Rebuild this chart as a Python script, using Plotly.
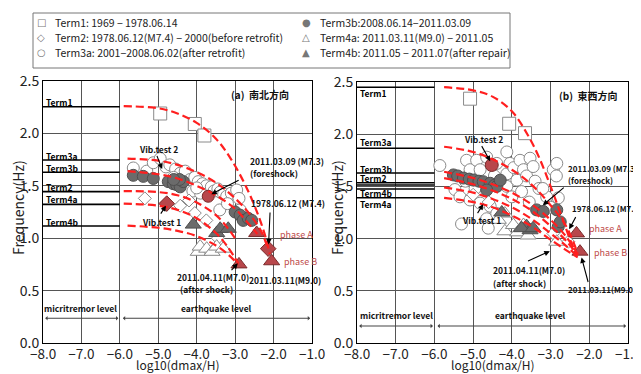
import plotly.graph_objects as go

# ------------------------------------------------------------------ data
X_TICKS = [-8, -7, -6, -5, -4, -3, -2, -1]
Y_TICKS = [0.0, 0.5, 1.0, 1.5, 2.0, 2.5]

# horizontal term reference lines (x from -8 to -6)
TERM_LEVELS_L = [2.255, 1.746, 1.629, 1.444, 1.323, 1.116]
TERM_NAMES_L = ["Term1", "Term3a", "Term3b", "Term2", "Term4a", "Term4b"]
TERM_LABEL_Y_L = [2.30, 1.784, 1.667, 1.486, 1.371, 1.157]

TERM_LEVELS_R = [2.449, 1.865, 1.628, 1.535, 1.513, 1.475, 1.392]
TERM_NAMES_R = ["Term1", "Term3a", "Term3b", "Term2", "Term4b", "Term4a"]
TERM_LABEL_Y_R = [2.39, 1.928, 1.667, 1.577, 1.435, 1.333]

# red dashed trend curves
CURVES_L = [
    ([-5.9, -5.0, -4.5, -4.0, -3.5, -3.1, -2.7, -2.4, -2.2, -2.1],
     [2.26, 2.24, 2.19, 2.10, 1.95, 1.75, 1.48, 1.22, 1.00, 0.85]),
    ([-5.8, -5.0, -4.5, -4.0, -3.5, -3.0, -2.6, -2.3, -2.15],
     [1.76, 1.74, 1.70, 1.63, 1.53, 1.38, 1.22, 1.05, 0.90]),
    ([-5.8, -5.0, -4.5, -4.0, -3.5, -3.0, -2.7, -2.42],
     [1.64, 1.61, 1.57, 1.50, 1.41, 1.28, 1.16, 1.04]),
    ([-5.9, -5.0, -4.5, -4.0, -3.5, -3.2, -2.95],
     [1.45, 1.44, 1.41, 1.34, 1.22, 1.10, 0.97]),
    ([-5.9, -5.0, -4.5, -4.0, -3.5, -3.2, -2.92],
     [1.33, 1.31, 1.27, 1.19, 1.05, 0.92, 0.76]),
    ([-5.8, -5.0, -4.5, -4.0, -3.5, -3.2, -2.92],
     [1.12, 1.10, 1.07, 1.02, 0.93, 0.85, 0.75]),
]
CURVES_R = [
    ([-5.75, -5.0, -4.5, -4.0, -3.6, -3.3, -3.0, -2.7, -2.45, -2.3],
     [2.45, 2.42, 2.36, 2.22, 2.00, 1.78, 1.50, 1.20, 0.95, 0.84]),
    ([-5.75, -5.0, -4.5, -4.0, -3.5, -3.0, -2.6, -2.3],
     [1.88, 1.83, 1.76, 1.66, 1.52, 1.32, 1.12, 0.86]),
    ([-5.75, -5.0, -4.5, -4.0, -3.5, -3.0, -2.6, -2.3],
     [1.64, 1.58, 1.52, 1.44, 1.33, 1.18, 1.02, 0.85]),
    ([-5.75, -5.0, -4.5, -4.0, -3.5, -3.0, -2.6, -2.3],
     [1.58, 1.52, 1.46, 1.38, 1.27, 1.12, 0.98, 0.84]),
    ([-5.75, -5.0, -4.5, -4.0, -3.5, -3.0, -2.6, -2.3],
     [1.49, 1.44, 1.38, 1.30, 1.19, 1.05, 0.93, 0.83]),
    ([-5.75, -5.0, -4.5, -4.0, -3.5, -3.0, -2.6, -2.3],
     [1.39, 1.35, 1.30, 1.22, 1.12, 0.99, 0.89, 0.82]),
]

# ---- left panel (a) 南北方向
T1_X_L = [-4.95, -4.05, -3.80]
T1_Y_L = [2.19, 2.09, 1.98]
T2_X_L = [-5.35, -4.43, -4.20, -4.05, -3.75, -3.45]
T2_Y_L = [1.38, 1.31, 1.36, 1.24, 1.17, 1.00]
T3A_X_L = [-5.65, -5.30, -5.13, -4.95, -4.80, -4.70, -4.55, -4.43, -4.30, -4.17,
           -4.05, -3.96, -3.85, -3.75, -3.62, -3.55, -3.45, -3.39, -3.30, -3.22,
           -3.10, -2.96, -2.90, -2.87, -3.40, -3.20, -4.10, -3.90, -4.60, -4.00]
T3A_Y_L = [1.67, 1.64, 1.72, 1.76, 1.68, 1.70, 1.66, 1.62, 1.64, 1.56,
           1.58, 1.54, 1.52, 1.50, 1.49, 1.45, 1.47, 1.44, 1.42, 1.40,
           1.43, 1.46, 1.38, 1.27, 1.27, 1.33, 1.45, 1.43, 1.58, 1.48]
T3B_X_L = [-5.65, -5.39, -5.13, -4.74, -4.61, -4.52, -4.43, -4.35, -4.45, -4.60,
           -3.00, -2.87, -2.79, -2.66, -2.57]
T3B_Y_L = [1.60, 1.59, 1.57, 1.54, 1.52, 1.51, 1.49, 1.54, 1.56, 1.56,
           1.25, 1.22, 1.17, 1.19, 1.17]
T4A_X_L = [-3.96, -3.91, -3.74, -3.60, -3.48, -3.31]
T4A_Y_L = [0.87, 0.92, 0.90, 0.87, 0.92, 0.90]
T4B_X_L = [-4.09, -3.48, -3.39, -3.18]
T4B_Y_L = [1.13, 1.05, 1.09, 1.09]
# highlighted (red) events: foreshock, vib test 1, 1978 event, phase A, phase B, after shock
RED_CIRC_X_L = [-3.70]
RED_CIRC_Y_L = [1.40]
RED_DIAM_X_L = [-4.78, -2.14]
RED_DIAM_Y_L = [1.33, 0.90]
RED_TRI_X_L = [-2.44, -2.05, -2.90]
RED_TRI_Y_L = [1.05, 0.78, 0.75]

# ---- right panel (b) 東西方向
T1_X_R = [-5.08, -4.07, -3.66]
T1_Y_R = [2.34, 2.10, 2.01]
T2_X_R = [-2.54, -2.93, -4.60, -5.00]
T2_Y_R = [0.97, 1.05, 1.35, 1.42]
T3A_X_R = [-5.86, -5.47, -5.34, -5.17, -5.08, -5.08, -4.91, -4.82, -4.82, -4.65,
           -4.65, -4.56, -4.39, -4.39, -4.31, -4.13, -4.13, -4.13, -4.05, -3.95,
           -3.87, -3.79, -3.70, -3.62, -3.53, -3.45, -3.40, -3.30, -3.10, -2.93,
           -2.84, -2.80, -2.85, -4.61, -5.30, -4.00, -3.75, -3.55, -4.45, -4.95,
           -5.20, -3.20, -3.00]
T3A_Y_R = [1.70, 1.47, 1.40, 1.75, 1.66, 1.37, 1.75, 1.66, 1.34, 1.78,
           1.19, 1.31, 1.72, 1.24, 1.53, 1.83, 1.62, 1.50, 1.72, 1.68,
           1.56, 1.75, 1.66, 1.60, 1.77, 1.69, 1.55, 1.48, 1.40, 1.66,
           1.72, 1.39, 1.60, 1.10, 1.14, 1.40, 1.45, 1.35, 1.60, 1.48,
           1.55, 1.48, 1.30]
T3B_X_R = [-5.51, -5.40, -5.25, -5.10, -4.99, -4.85, -4.74, -4.56, -4.45, -4.39,
           -4.65, -4.30, -3.36, -3.19, -2.84, -2.80, -2.75]
T3B_Y_R = [1.61, 1.60, 1.58, 1.57, 1.56, 1.55, 1.545, 1.53, 1.51, 1.50,
           1.465, 1.56, 1.275, 1.26, 1.275, 1.115, 1.16]
T4A_X_R = [-4.18, -4.18, -3.96, -3.85, -3.70, -3.58, -2.84, -4.35]
T4A_Y_R = [1.07, 1.24, 1.13, 1.06, 1.13, 1.03, 0.97, 1.18]
T4B_X_R = [-4.26, -3.62, -3.53, -3.75, -3.45]
T4B_Y_R = [1.25, 1.12, 1.08, 1.10, 1.10]
RED_CIRC_X_R = [-4.52]
RED_CIRC_Y_R = [1.705]
RED_TRI_X_R = [-2.33, -2.24]
RED_TRI_Y_R = [1.05, 0.875]

# legend (glyph, text), laid out in two columns
LEGEND_COL1 = [("□", "Term1: 1969 \u2212 1978.06.14"),
               ("◇", "Term2: 1978.06.12(M7.4) \u2212 2000(before retrofit)"),
               ("○", "Term3a: 2001\u22122008.06.02(after retrofit)")]
LEGEND_COL2 = [("●", "Term3b:2008.06.14\u22122011.03.09"),
               ("△", "Term4a: 2011.03.11(M9.0) \u2212 2011.05"),
               ("▲", "Term4b: 2011.05 \u2212 2011.07(after repair)")]

# ------------------------------------------------------------------ geometry
# page body adds an 8px margin, so the figure is 8px smaller than the window
OFF = 8
W, H = 641 - OFF, 374 - OFF


def PX(p):  # window pixel -> paper x
    return (p - OFF) / W


def PY(p):  # window pixel -> paper y
    return 1 - (p - OFF) / H


WHITE_EDGE = "#8a8a8a"
GRAY = "#6b6b6b"
RED_M = "#b8474b"
RED_LINE = "#ff1f1f"
TXT_FONT = "Noto Sans CJK JP, Noto Sans, sans-serif"
AX_FONT = "Noto Sans CJK JP, Noto Sans, sans-serif"

fig = go.Figure()


def add_markers(x, y, xa, ya, symbol, fill, edge, size):
    fig.add_trace(go.Scatter(
        x=x, y=y, xaxis=xa, yaxis=ya, mode="markers",
        marker=dict(symbol=symbol, color=fill, size=size,
                    line=dict(color=edge, width=1)),
        showlegend=False, hoverinfo="skip"))


def add_panel(xa, ya, curves, levels, names, label_y, data, red):
    for lv in levels:
        fig.add_trace(go.Scatter(x=[-8, -6], y=[lv, lv], xaxis=xa, yaxis=ya,
                                 mode="lines", line=dict(color="black", width=1.6),
                                 showlegend=False, hoverinfo="skip"))
    for nm, yy in zip(names, label_y):
        fig.add_annotation(x=-7.97, y=yy, xref=xa, yref=ya, text="<b>%s</b>" % nm,
                           showarrow=False, xanchor="left", yanchor="middle",
                           font=dict(size=8.5, family=TXT_FONT, color="black"))
    t1, t2, t3a, t3b, t4a, t4b = data
    add_markers(*t3a, xa, ya, "circle", "white", WHITE_EDGE, 12)
    add_markers(*t2, xa, ya, "diamond", "white", WHITE_EDGE, 10)
    add_markers(*t1, xa, ya, "square", "white", WHITE_EDGE, 13)
    add_markers(*t4a, xa, ya, "triangle-up", "white", WHITE_EDGE, 14)
    add_markers(*t3b, xa, ya, "circle", GRAY, "#4f4f4f", 12)
    add_markers(*t4b, xa, ya, "triangle-up", GRAY, "#4f4f4f", 14)
    for (rx, ry), sym, sz in red:
        add_markers(rx, ry, xa, ya, sym, RED_M, "#7a2a2a", sz)
    for cx, cy in curves:
        fig.add_trace(go.Scatter(x=cx, y=cy, xaxis=xa, yaxis=ya, mode="lines",
                                 line=dict(color=RED_LINE, width=2.2, dash="8px,4px",
                                           shape="spline", smoothing=1.0),
                                 showlegend=False, hoverinfo="skip"))


add_panel("x", "y", CURVES_L, TERM_LEVELS_L, TERM_NAMES_L, TERM_LABEL_Y_L,
          ((T1_X_L, T1_Y_L), (T2_X_L, T2_Y_L), (T3A_X_L, T3A_Y_L), (T3B_X_L, T3B_Y_L),
           (T4A_X_L, T4A_Y_L), (T4B_X_L, T4B_Y_L)),
          [((RED_CIRC_X_L, RED_CIRC_Y_L), "circle", 12),
           ((RED_DIAM_X_L, RED_DIAM_Y_L), "diamond", 12),
           ((RED_TRI_X_L, RED_TRI_Y_L), "triangle-up", 14)])
add_panel("x2", "y2", CURVES_R, TERM_LEVELS_R, TERM_NAMES_R, TERM_LABEL_Y_R,
          ((T1_X_R, T1_Y_R), (T2_X_R, T2_Y_R), (T3A_X_R, T3A_Y_R), (T3B_X_R, T3B_Y_R),
           (T4A_X_R, T4A_Y_R), (T4B_X_R, T4B_Y_R)),
          [((RED_CIRC_X_R, RED_CIRC_Y_R), "circle", 13),
           ((RED_TRI_X_R, RED_TRI_Y_R), "triangle-up", 14)])


# ------------------------------------------------------------------ annotations
def label(xa, ya, x, y, text, anchor="center", color="#111", size=8.5, bold=True):
    t = "<b>%s</b>" % text if bold else text
    fig.add_annotation(x=x, y=y, xref=xa, yref=ya, text=t, showarrow=False,
                       xanchor=anchor, yanchor="middle",
                       font=dict(size=size, family=TXT_FONT, color=color))


def arrow(xa, ya, x0, y0, x1, y1, both=False):
    fig.add_annotation(x=x1, y=y1, ax=x0, ay=y0, xref=xa, yref=ya, axref=xa, ayref=ya,
                       text="", showarrow=True, arrowhead=2 if not both else 1,
                       arrowsize=1.0 if not both else 0.7, arrowwidth=1.1,
                       arrowside="end+start" if both else "end",
                       arrowcolor="black" if not both else "#444")


PH = "#c04a4a"
# left panel
label("x", "y", -2.35, 2.37, "(a)&nbsp;&nbsp;南北方向", size=10)
label("x", "y", -5.0, 1.85, "Vib.test 2")
arrow("x", "y", -5.05, 1.80, -4.9, 1.66)
label("x", "y", -2.66, 1.74, "2011.03.09 (M7.3)", anchor="left")
label("x", "y", -2.66, 1.62, "(foreshock)", anchor="left")
arrow("x", "y", -2.87, 1.56, -3.62, 1.42)
label("x", "y", -2.63, 1.333, "1978.06.12 (M7.4)", anchor="left")
arrow("x", "y", -2.09, 1.26, -2.13, 0.94)
label("x", "y", -1.88, 1.04, "phase A", anchor="left", color=PH, size=9, bold=False)
label("x", "y", -1.79, 0.776, "phase B", anchor="left", color=PH, size=9, bold=False)
label("x", "y", -4.91, 1.157, "Vib.test 1")
arrow("x", "y", -4.96, 1.22, -4.80, 1.31)
label("x", "y", -3.57, 0.633, "2011.04.11(M7.0)")
label("x", "y", -3.75, 0.512, "(after shock)")
arrow("x", "y", -3.13, 0.68, -2.93, 0.76)
label("x", "y", -1.70, 0.60, "2011.03.11(M9.0)")
label("x", "y", -7.02, 0.33, "micritremor level")
label("x", "y", -3.48, 0.33, "earthquake level")
arrow("x", "y", -7.98, 0.236, -6.04, 0.236, both=True)
arrow("x", "y", -5.96, 0.236, -1.05, 0.236, both=True)

# right panel
label("x2", "y2", -2.02, 2.375, "(b)&nbsp;&nbsp;東西方向", size=10)
label("x2", "y2", -4.74, 1.954, "Vib.test 2")
arrow("x2", "y2", -4.8, 1.90, -4.56, 1.74)
label("x2", "y2", -2.60, 1.673, "2011.03.09 (M7.3)", anchor="left", size=8)
label("x2", "y2", -2.60, 1.561, "(foreshock)", anchor="left", size=8)
arrow("x2", "y2", -2.62, 1.50, -3.2, 1.32)
label("x2", "y2", -2.50, 1.29, "1978.06.12 (M7.4)", anchor="left", size=8)
arrow("x2", "y2", -2.33, 1.22, -2.52, 1.09)
label("x2", "y2", -2.07, 1.10, "phase A", anchor="left", color=PH, size=9, bold=False)
label("x2", "y2", -1.94, 0.865, "phase B", anchor="left", color=PH, size=9, bold=False)
label("x2", "y2", -4.78, 1.178, "Vib.test 1")
arrow("x2", "y2", -4.91, 1.23, -4.74, 1.33)
label("x2", "y2", -3.57, 0.70, "2011.04.11(M7.0)")
label("x2", "y2", -3.79, 0.572, "(after shock)")
arrow("x2", "y2", -3.62, 0.78, -3.02, 0.88)
label("x2", "y2", -1.68, 0.514, "2011.03.11(M9.0)", size=8)
arrow("x2", "y2", -2.02, 0.57, -2.2, 0.82)
label("x2", "y2", -6.97, 0.27, "micritremor level")
label("x2", "y2", -3.53, 0.27, "earthquake level")
arrow("x2", "y2", -7.98, 0.163, -6.04, 0.163, both=True)
arrow("x2", "y2", -5.96, 0.163, -1.05, 0.163, both=True)

# axis titles
for cx in [(43 + 312) / 2, (357 + 628) / 2]:
    fig.add_annotation(x=PX(cx), y=PY(364), xref="paper", yref="paper",
                       text="log10(dmax/H)", showarrow=False, xanchor="center",
                       yanchor="middle", font=dict(size=12, family=AX_FONT, color="#222"))
for cx in [18, 337]:
    fig.add_annotation(x=PX(cx), y=PY(208), xref="paper", yref="paper",
                       text="Frequency(Hz)", showarrow=False, textangle=-90,
                       xanchor="center", yanchor="middle",
                       font=dict(size=14, family=AX_FONT, color="#222"))

# manual legend box
fig.add_shape(type="rect", xref="paper", yref="paper",
              x0=PX(33), x1=PX(510), y0=PY(68), y1=PY(13),
              line=dict(color="#777", width=1), fillcolor="white")
for col, (gx, tx) in zip([LEGEND_COL1, LEGEND_COL2], [(41, 53), (306, 318)]):
    for i, (g, t) in enumerate(col):
        yy = PY(22.5 + 15 * i)
        fig.add_annotation(x=PX(gx), y=yy, xref="paper", yref="paper", text=g,
                           showarrow=False, xanchor="center", yanchor="middle",
                           font=dict(size=10, family="DejaVu Sans", color="#777"))
        fig.add_annotation(x=PX(tx), y=yy, xref="paper", yref="paper", text=t,
                           showarrow=False, xanchor="left", yanchor="middle",
                           font=dict(size=10.5, family=TXT_FONT, color="#222"))


# ------------------------------------------------------------------ axes
def xax(dom, anchor):
    return dict(domain=dom, range=[-8, -1], tickvals=X_TICKS, tickformat=".1f",
                showgrid=True, gridcolor="#555", gridwidth=1, zeroline=False,
                showline=True, linecolor="black", linewidth=1, mirror=True,
                ticks="", anchor=anchor, automargin=False, ticklabelstandoff=-1,
                ticklabeloverflow="allow",
                tickfont=dict(size=13.5, family=AX_FONT, color="#222"))


def yax(dom, anchor):
    return dict(domain=dom, range=[0, 2.5], tickvals=Y_TICKS, tickformat=".1f",
                showgrid=True, gridcolor="#555", gridwidth=1, zeroline=False,
                showline=True, linecolor="black", linewidth=1, mirror=True,
                ticks="", anchor=anchor, automargin=False, ticklabeloverflow="allow",
                tickfont=dict(size=14, family=AX_FONT, color="#222"))


fig.update_layout(
    width=W, height=H, margin=dict(l=0, r=0, t=0, b=0, autoexpand=False),
    paper_bgcolor="white", plot_bgcolor="white",
    xaxis=xax([PX(43), PX(312)], "y"),
    yaxis=yax([PY(343), PY(81)], "x"),
    xaxis2=xax([PX(357), PX(628)], "y2"),
    yaxis2=yax([PY(343), PY(82)], "x2"),
    showlegend=False,
)

fig.write_html("out.html")
